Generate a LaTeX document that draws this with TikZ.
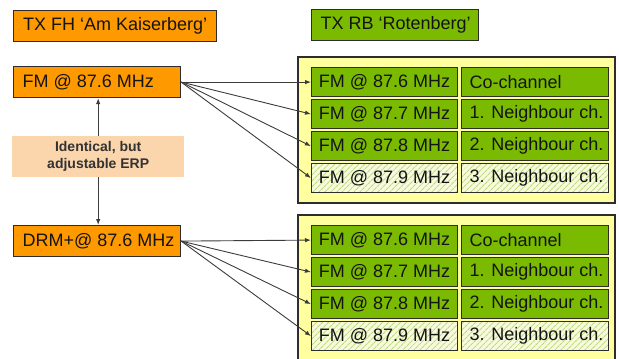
\documentclass[tikz,border=0pt]{standalone}
\usepackage{fontspec}
\setmainfont{Liberation Sans}
\usepackage{tikz}
\usetikzlibrary{arrows.meta,patterns.meta,positioning}
\definecolor{txorange}{RGB}{255,153,0}
\definecolor{txgreen}{RGB}{122,186,0}
\definecolor{paleyellow}{RGB}{255,255,160}
\definecolor{peach}{RGB}{251,213,172}
\definecolor{hatchbg}{RGB}{248,250,222}
\definecolor{hatchline}{RGB}{190,218,130}
\definecolor{edge}{RGB}{45,45,45}
\definecolor{wire}{RGB}{60,60,60}
% left-aligned text of fixed width inside a box
\newcommand\lbox[2]{\makebox[#1][l]{#2}}

\begin{document}
\begin{tikzpicture}[x=1pt,y=-1pt,
  >={Latex[length=6pt,width=4.5pt]},
  every node/.style={font=\fontsize{18}{21}\selectfont, text=black!92},
  box/.style={draw=edge, line width=1.2pt, minimum height=29pt, inner ysep=0pt,
    inner xsep=7pt, anchor=north west},
  txbox/.style={box, fill=txorange, minimum height=31pt},
  cell/.style={box, fill=txgreen},
  hatched/.style={box, preaction={fill=hatchbg},
    pattern={Lines[angle=45,distance=4pt,line width=1.1pt]}, pattern color=hatchline},
  link/.style={draw=wire, line width=0.9pt, ->}]
\useasboundingbox (0,0) rectangle (619,359);
% Transmitter side
\node[txbox, minimum width=203pt] (txfh) at (13,10) {TX FH ‘Am Kaiserberg’};
\node[txbox, inner xsep=9pt] (fm)  at (13,66)  {\lbox{149pt}{FM @ 87.6 MHz}};
\node[txbox, inner xsep=9pt] (drm) at (13,225) {\lbox{149pt}{DRM+@ 87.6 MHz}};
\node[fill=peach, minimum width=172pt, minimum height=41pt, align=center,
  font=\fontsize{14}{17}\selectfont\bfseries, text=black!80, anchor=north west]
  (erp) at (12,136) {Identical, but\\adjustable ERP};
\draw[link,<-] (fm.south -| erp) -- (erp.north);
\draw[link] (erp.south) -- (erp.south |- drm.north);
% Receiver side
\node[txbox, fill=txgreen, inner xsep=9pt] (txrb) at (311,9) {\lbox{149pt}{TX RB ‘Rotenberg’}};
\foreach \g/\src/\top in {A/fm/57, B/drm/215}{
  \fill[paleyellow,draw=edge,line width=1.2pt] (298,\top) rectangle (615,\top+146);
  \foreach \f/\lab/\sty [count=\i] in {87.6/Co-channel/cell, 87.7/1. Neighbour ch./cell,
      87.8/2. Neighbour ch./cell, 87.9/3. Neighbour ch./hatched}{
    \node[\sty, minimum width=146pt] (rx\g\i) at (311,\top+32*\i-22) {FM @ \f\ MHz};
    \node[\sty, inner xsep=8pt] (ch\g\i) at (461,\top+32*\i-22) {\lbox{131pt}{\lab}};
    \draw[link] (\src.east) -- (rx\g\i.west);
  }
}
\end{tikzpicture}
\end{document}
